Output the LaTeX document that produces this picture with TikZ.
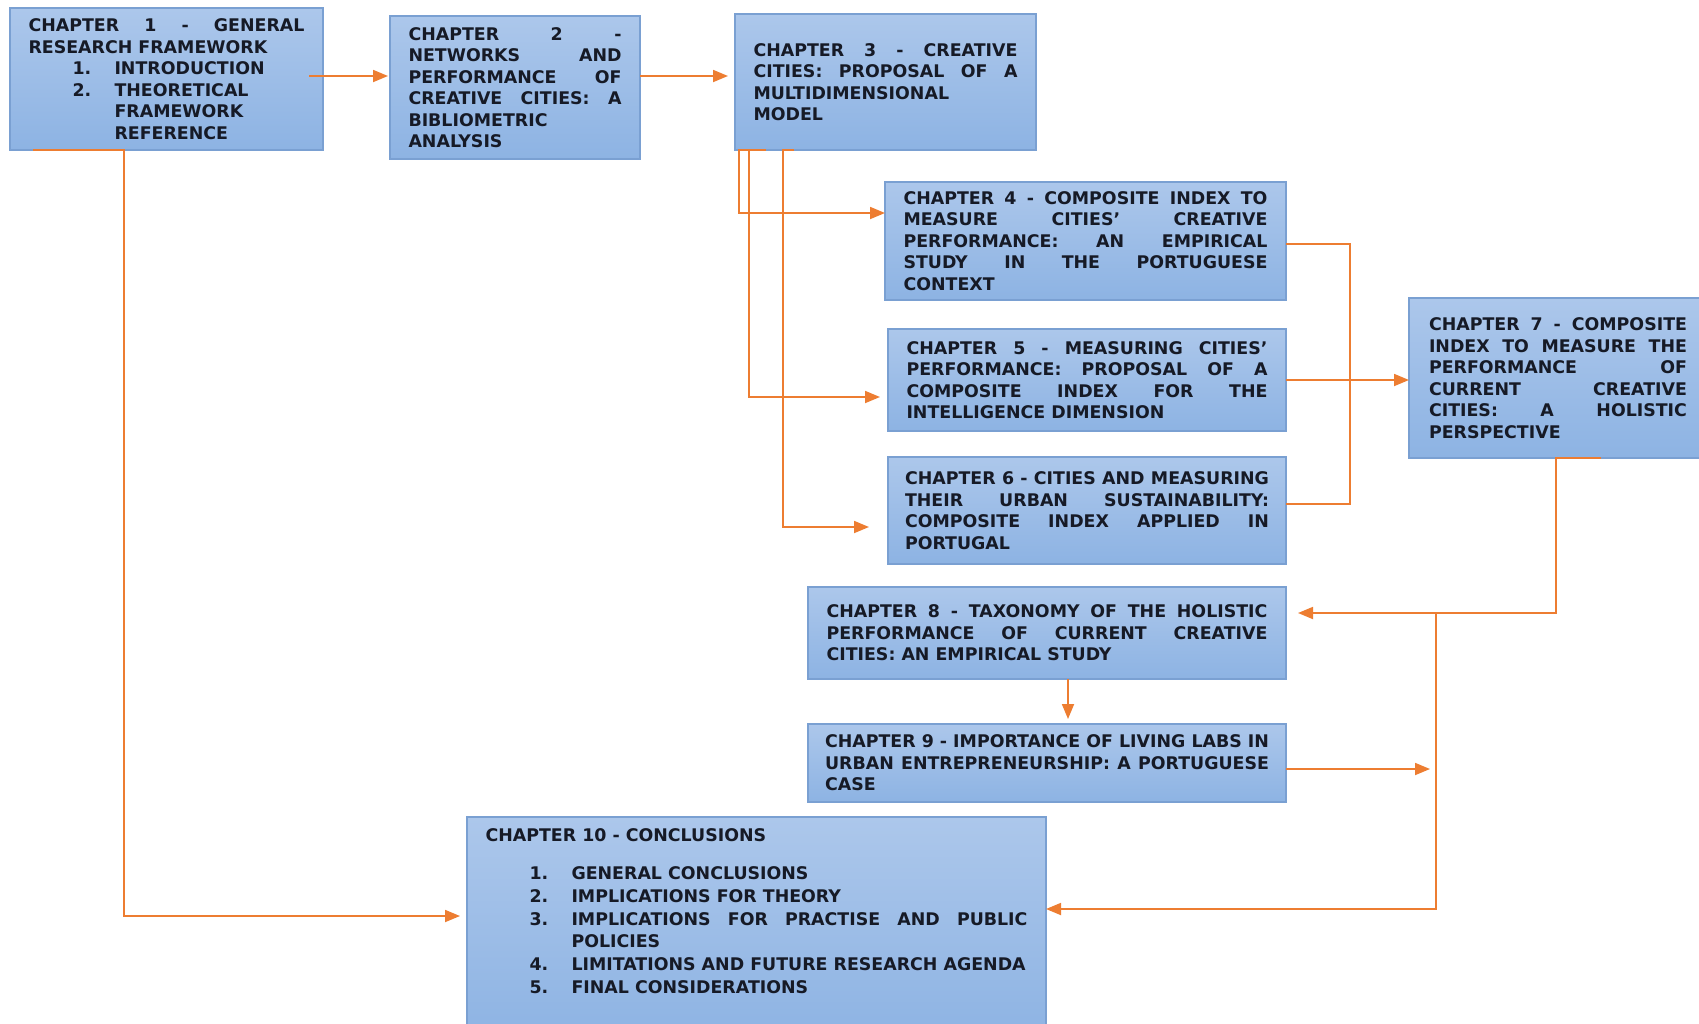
\documentclass[tikz,border=0pt]{standalone}
\usepackage{fontspec}
\setmainfont{DejaVu Sans}
\usetikzlibrary{arrows.meta}
\definecolor{boxtop}{RGB}{172,199,235}
\definecolor{boxbot}{RGB}{141,179,227}
\definecolor{boxline}{RGB}{122,160,210}
\definecolor{conncol}{RGB}{237,125,49}
\definecolor{txtcol}{RGB}{22,26,38}
\newcommand\chapitem[1]{\par\hangindent=86pt\hangafter=1\hspace*{44pt}\makebox[42pt][l]{#1}}
\newcommand\plainbreak{\hfil\break\relax}
\begin{document}
\begin{tikzpicture}[x=1pt,y=-1pt,
  chapbox/.style={draw=boxline, line width=1.3pt, top color=boxtop, bottom color=boxbot,
    text=txtcol, anchor=north west, outer sep=0pt, inner xsep=18.5pt, inner ysep=0pt, align=justify,
    font={\fontsize{17.4}{21.5}\selectfont\bfseries\tolerance=10000\hyphenpenalty=10000\exhyphenpenalty=10000}},
  conn/.style={draw=conncol, line width=1.8pt},
  arr/.style={conn, -{Triangle[length=15pt,width=12pt]}}]
\useasboundingbox (0,0) rectangle (1699,1023);
\fill[white] (0,0) rectangle (1699,1023);

\node[chapbox, text width=276pt, minimum width=313pt, minimum height=142pt] (b1) at (10,8)
 {CHAPTER 1 - GENERAL\linebreak RESEARCH FRAMEWORK\chapitem{1.}INTRODUCTION\chapitem{2.}THEORETICAL\plainbreak FRAMEWORK\plainbreak REFERENCE\par};

\node[chapbox, text width=213pt, minimum width=249pt, minimum height=143pt] (b2) at (390,16)
 {CHAPTER 2 -\linebreak NETWORKS AND\linebreak PERFORMANCE OF\linebreak CREATIVE CITIES: A\linebreak BIBLIOMETRIC\plainbreak ANALYSIS};

\node[chapbox, text width=264pt, minimum width=300pt, minimum height=136pt] (b3) at (735,14)
 {CHAPTER 3 - CREATIVE\linebreak CITIES: PROPOSAL OF A\linebreak MULTIDIMENSIONAL\plainbreak MODEL};

\node[chapbox, text width=364pt, minimum width=401pt, minimum height=118pt] (b4) at (885,182)
 {CHAPTER 4 - COMPOSITE INDEX TO\linebreak MEASURE CITIES’ CREATIVE\linebreak PERFORMANCE: AN EMPIRICAL\linebreak STUDY IN THE PORTUGUESE\linebreak CONTEXT};

\node[chapbox, text width=361pt, minimum width=398pt, minimum height=102pt] (b5) at (888,329)
 {CHAPTER 5 - MEASURING CITIES’\linebreak PERFORMANCE: PROPOSAL OF A\linebreak COMPOSITE INDEX FOR THE\linebreak INTELLIGENCE DIMENSION};

\node[chapbox, inner xsep=17pt, text width=364pt, minimum width=398pt, minimum height=107pt] (b6) at (888,457)
 {CHAPTER 6 - CITIES AND MEASURING\linebreak THEIR URBAN SUSTAINABILITY:\linebreak COMPOSITE INDEX APPLIED IN\linebreak PORTUGAL};

\node[chapbox, inner xsep=20pt, text width=258pt, minimum width=298pt, minimum height=160pt] (b7) at (1409,298)
 {CHAPTER 7 - COMPOSITE\linebreak INDEX TO MEASURE THE\linebreak PERFORMANCE OF\linebreak CURRENT CREATIVE\linebreak CITIES: A HOLISTIC\linebreak PERSPECTIVE};

\node[chapbox, text width=441pt, minimum width=478pt, minimum height=92pt] (b8) at (808,587)
 {CHAPTER 8 - TAXONOMY OF THE HOLISTIC\linebreak PERFORMANCE OF CURRENT CREATIVE\linebreak CITIES: AN EMPIRICAL STUDY};

\node[chapbox, inner xsep=17pt, text width=444pt, minimum width=478pt, minimum height=78pt] (b9) at (808,724)
 {CHAPTER 9 - IMPORTANCE OF LIVING LABS IN\linebreak URBAN ENTREPRENEURSHIP: A PORTUGUESE\linebreak CASE};

\node[chapbox, text width=542pt, minimum width=579pt, text height=24pt, text depth=200pt,
  font={\fontsize{17.4}{22.7}\selectfont\bfseries\tolerance=10000\hyphenpenalty=10000\exhyphenpenalty=10000}] (b10) at (467,817)
 {CHAPTER 10 - CONCLUSIONS\par\vspace{16pt}\chapitem{1.}GENERAL CONCLUSIONS\chapitem{2.}IMPLICATIONS FOR THEORY\chapitem{3.}IMPLICATIONS FOR PRACTISE AND PUBLIC\linebreak POLICIES\chapitem{4.}LIMITATIONS AND FUTURE RESEARCH AGENDA\chapitem{5.}FINAL CONSIDERATIONS\par};

% connectors
\draw[arr, shorten >=2pt] (b1.east |- 0,76) ++(-14,0) -- (b2.west |- 0,76);
\draw[arr, shorten >=7pt] (b2.east |- 0,76) -- (b3.west |- 0,76);
\draw[arr] (b3.south -| 766,0) -- (b3.south -| 739,0) -- (739,213) -- (b4.west |- 0,213);
\draw[arr, shorten >=8pt] (b3.south -| 749,0) -- (749,397) -- (b5.west |- 0,397);
\draw[arr, shorten >=19pt] (b3.south -| 794,0) -- (b3.south -| 783,0) -- (783,527) -- (b6.west |- 0,527);
\draw[conn] (b4.east |- 0,244) -- (1350,244) -- (1350,504) -- (b6.east |- 0,504);
\draw[arr] (b5.east |- 0,380) -- (b7.west |- 0,380);
\draw[arr, shorten >=12pt] (b7.south -| 1601,0) -- (b7.south -| 1556,0) -- (1556,613) -- (b8.east |- 0,613);
\coordinate (j) at (1436,613);
\draw[arr, shorten >=5pt] (b8.south -| 1068,0) -- (b9.north -| 1068,0);
\draw[arr, shorten >=6pt] (b9.east |- 0,769) -- (j |- 0,769);
\draw[arr] (j) -- (1436,909) -- (b10.east |- 0,909);
\draw[arr, shorten >=7pt] (b1.south -| 33,0) -- (b1.south -| 124,0) -- (124,916) -- (b10.west |- 0,916);
\end{tikzpicture}
\end{document}
